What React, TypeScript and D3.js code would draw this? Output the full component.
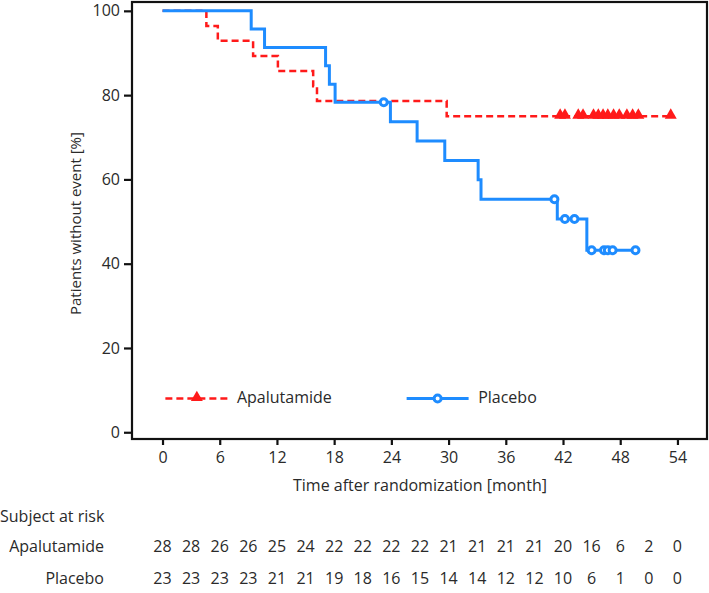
import React, { useEffect, useRef } from 'react';
import * as d3 from 'd3';

// step times (months) and survival (%)
const apaTimes = [0, 4.6, 5.8, 9.5, 12.1, 15.8, 16.2, 29.8];
const apaSurv = [100, 96.4, 92.9, 89.3, 85.7, 82.1, 78.6, 75.0];
const apaEnd = 53.3;
const apaCensor = [41.7, 42.2, 43.6, 44.1, 45.2, 45.7, 46.2, 46.7, 47.3, 47.9, 48.7, 49.3, 49.9, 53.3];

const plaTimes = [0, 9.3, 10.7, 17.1, 17.5, 18.1, 23.9, 26.7, 29.6, 33.1, 33.4, 41.4, 44.5];
const plaSurv = [100, 95.7, 91.3, 87.0, 82.6, 78.3, 73.7, 69.1, 64.5, 59.9, 55.3, 50.6, 43.2];
const plaEnd = 49.6;
const plaCensor = [23.2, 41.1, 42.2, 43.2, 45.0, 46.3, 46.7, 47.2, 49.6];

const riskTimes = d3.range(0, 55, 3);
const apaRisk = [28, 28, 26, 26, 25, 24, 22, 22, 22, 22, 21, 21, 21, 21, 20, 16, 6, 2, 0];
const plaRisk = [23, 23, 23, 23, 21, 21, 19, 18, 16, 15, 14, 14, 12, 12, 10, 6, 1, 0, 0];

const xTicks = d3.range(0, 55, 6);
const yTicks = d3.range(0, 101, 20);

const RED = '#ff1a1a';
const BLUE = '#1e8cff';
const FONT = '"Open Sans", "Noto Sans", sans-serif';
const TEXT = '#2a2a2a';
const FS = '16px';

export default function App() {
    const ref = useRef<SVGSVGElement>(null);

    useEffect(() => {
        if (!ref.current) return;
        const svg = d3.select(ref.current);
        svg.selectAll('*').remove();

        const left = 132, right = 707, top = 2, bottom = 439;
        const x = d3.scaleLinear().domain([-3.2, 57.1]).range([left, right]);
        const y = d3.scaleLinear().domain([-1.6, 102.1]).range([bottom, top]);

        const survAt = (times: number[], surv: number[], t: number) => {
            let v = surv[0];
            times.forEach((tt, i) => { if (tt <= t) v = surv[i]; });
            return v;
        };

        const line = d3.line<[number, number]>()
            .curve(d3.curveStepAfter)
            .x(d => x(d[0]))
            .y(d => y(d[1]));

        const triangle = d3.symbol().type(d3.symbolTriangle).size(62);

        // red first so the blue line sits on top where they overlap
        const series = [
            { times: apaTimes, surv: apaSurv, end: apaEnd, censor: apaCensor, color: RED, dash: '7,4', width: 2.5, kind: 'tri' },
            { times: plaTimes, surv: plaSurv, end: plaEnd, censor: plaCensor, color: BLUE, dash: null, width: 3, kind: 'circ' },
        ];

        series.forEach(s => {
            const pts: [number, number][] = s.times.map((t, i) => [t, s.surv[i]] as [number, number]);
            pts.push([s.end, s.surv[s.surv.length - 1]]);
            svg.append('path')
                .datum(pts)
                .attr('fill', 'none')
                .attr('stroke', s.color)
                .attr('stroke-width', s.width)
                .attr('stroke-dasharray', s.dash)
                .attr('d', line);

            s.censor.forEach(c => {
                const cx = x(c), cy = y(survAt(s.times, s.surv, c));
                if (s.kind === 'tri') {
                    svg.append('path')
                        .attr('d', triangle)
                        .attr('transform', `translate(${cx},${cy - 1})`)
                        .attr('fill', s.color);
                } else {
                    svg.append('circle')
                        .attr('cx', cx).attr('cy', cy).attr('r', 3.5)
                        .attr('fill', '#fff')
                        .attr('stroke', s.color)
                        .attr('stroke-width', 3);
                }
            });
        });

        // frame
        svg.append('rect')
            .attr('x', left).attr('y', top)
            .attr('width', right - left).attr('height', bottom - top)
            .attr('fill', 'none').attr('stroke', '#111').attr('stroke-width', 2.2);

        const xAxis = svg.append('g')
            .attr('transform', `translate(0,${bottom})`)
            .call(d3.axisBottom(x).tickValues(xTicks).tickSize(6).tickPadding(7).tickFormat(d3.format('d')));
        const yAxis = svg.append('g')
            .attr('transform', `translate(${left},0)`)
            .call(d3.axisLeft(y).tickValues(yTicks).tickSize(8).tickPadding(4).tickFormat(d3.format('d')));
        [xAxis, yAxis].forEach(a => {
            a.select('.domain').remove();
            a.selectAll('line').attr('stroke', '#111').attr('stroke-width', 2.2);
            a.selectAll('text').attr('fill', TEXT).style('font-size', FS).style('font-family', FONT);
        });

        // axis titles
        svg.append('text')
            .attr('transform', `translate(77,${(y(0) + y(100)) / 2 + 2}) rotate(-90)`)
            .attr('text-anchor', 'middle').attr('dominant-baseline', 'middle')
            .attr('fill', TEXT).style('font-size', '15px').style('font-family', FONT)
            .text('Patients without event [%]');
        svg.append('text')
            .attr('x', (x(0) + x(54)) / 2).attr('y', 487)
            .attr('text-anchor', 'middle').attr('dominant-baseline', 'middle')
            .attr('fill', TEXT).style('font-size', FS).style('font-family', FONT)
            .text('Time after randomization [month]');

        // legend
        const legY = y(8);
        const legends = [
            { label: 'Apalutamide', color: RED, dash: '7,4', width: 2.5, kind: 'tri', x0: x(0.3), x1: x(6.9), tx: x(7.8) },
            { label: 'Placebo', color: BLUE, dash: null, width: 3, kind: 'circ', x0: x(25.6), x1: x(32.1), tx: x(33.1) },
        ];
        legends.forEach(l => {
            svg.append('line')
                .attr('x1', l.x0).attr('x2', l.x1).attr('y1', legY).attr('y2', legY)
                .attr('stroke', l.color).attr('stroke-width', l.width).attr('stroke-dasharray', l.dash);
            const mx = (l.x0 + l.x1) / 2;
            if (l.kind === 'tri') {
                svg.append('path').attr('d', triangle).attr('transform', `translate(${mx},${legY - 1})`).attr('fill', l.color);
            } else {
                svg.append('circle').attr('cx', mx).attr('cy', legY).attr('r', 3.5)
                    .attr('fill', '#fff').attr('stroke', l.color).attr('stroke-width', 3);
            }
            svg.append('text')
                .attr('x', l.tx).attr('y', legY)
                .attr('dominant-baseline', 'middle')
                .attr('fill', TEXT).style('font-size', FS).style('font-family', FONT)
                .text(l.label);
        });

        // at-risk table
        svg.append('text')
            .attr('x', 0).attr('y', 518)
            .attr('dominant-baseline', 'middle')
            .attr('fill', TEXT).style('font-size', FS).style('font-family', FONT)
            .text('Subject at risk');
        const rows = [
            { label: 'Apalutamide', values: apaRisk, ry: 548 },
            { label: 'Placebo', values: plaRisk, ry: 580 },
        ];
        rows.forEach(r => {
            svg.append('text')
                .attr('x', 104).attr('y', r.ry)
                .attr('text-anchor', 'end').attr('dominant-baseline', 'middle')
                .attr('fill', TEXT).style('font-size', FS).style('font-family', FONT)
                .text(r.label);
            svg.selectAll(null)
                .data(r.values)
                .enter().append('text')
                .attr('x', (d, i) => x(riskTimes[i]))
                .attr('y', r.ry)
                .attr('text-anchor', 'middle').attr('dominant-baseline', 'middle')
                .attr('fill', TEXT).style('font-size', FS).style('font-family', FONT)
                .text(d => d);
        });
    }, []);

    return (
        <div style={{ position: 'absolute', left: 0, top: 0 }}>
            <svg ref={ref} width={709} height={593} style={{ display: 'block', background: '#fff' }} />
        </div>
    );
}
